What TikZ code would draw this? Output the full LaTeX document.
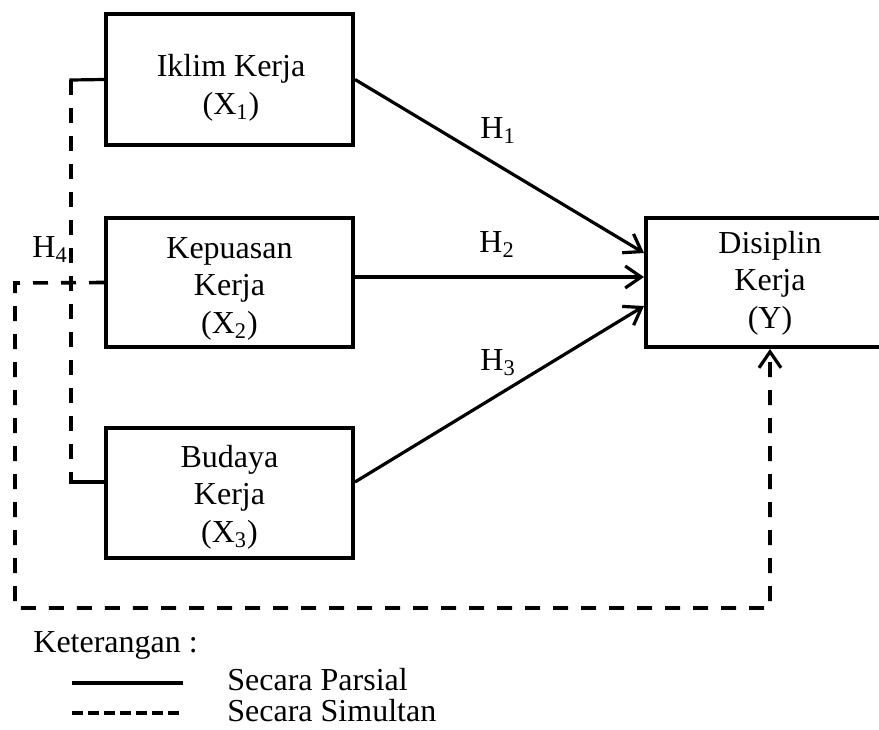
\documentclass[tikz,border=0pt]{standalone}
\usepackage{fontspec}
\setmainfont{Liberation Serif}
\usetikzlibrary{arrows.meta}
\begin{document}
\begin{tikzpicture}[x=0.5pt,y=-0.5pt,
  box/.style={draw, line width=2pt, minimum width=123.5pt, minimum height=65pt, inner sep=0pt},
  txt/.style={align=center, inner sep=0pt, font=\fontsize{16}{18.75}\selectfont},
  lbl/.style={inner sep=0pt, anchor=base west, font=\fontsize{16}{18.75}\selectfont},
  solidline/.style={line width=1.6pt},
  dashline/.style={line width=1.8pt, dash pattern=on 7.5pt off 6.5pt},
  arr/.style={-{Straight Barb[length=8pt,width=11pt,line width=1.6pt]}},
]
\useasboundingbox (0,0) rectangle (879,729);
\clip (0,0) rectangle (879,729);
% boxes
\node[box, minimum height=65.5pt] (X1) at (229.5,79.5) {};
\node[box, minimum height=64.5pt] (X2) at (229.5,282.5) {};
\node[box, minimum height=65pt] (X3) at (229.5,493) {};
\node[box, minimum width=124pt, minimum height=64.5pt] (Y) at (770,282.5) {};
% box texts
\node[txt] (t1) at (231,88) {Iklim Kerja\\(X\textsubscript{1})};
\node[txt] (t2) at (229.5,288.5) {Kepuasan\\Kerja\\(X\textsubscript{2})};
\node[txt] (t3) at (229.5,497) {Budaya\\Kerja\\(X\textsubscript{3})};
\node[txt] (tY) at (770,283) {Disiplin\\Kerja\\(Y)};
% H4 bracket
\coordinate (h4top) at (71,80);
\coordinate (h4bot) at (71,482);
\draw[solidline, line cap=rect] (X1.west) -- (h4top);
\draw[dashline] (h4top) -- (h4bot);
\draw[solidline, line cap=rect] (h4bot) -- (h4bot -| X3.west);
% partial arrows
\draw[solidline,arr] (X1.east) -- (Y.west |- 0,253);
\draw[solidline,arr] (X2.east |- 0,277) -- (Y.west |- 0,277);
\draw[solidline,arr] (X3.east |- h4bot) -- (Y.west |- 0,306);
% simultaneous arrow
\coordinate (sl) at (15,283);
\coordinate (sb1) at (15,608);
\coordinate (sb2) at (770,608);
\draw[dashline,arr] (X2.west) -- (sl) -- (sb1) -- (sb2) -- (Y.south);
% hypothesis labels
\node[lbl] (H1) at (480,138) {H\textsubscript{1}};
\node[lbl] (H2) at (479,252) {H\textsubscript{2}};
\node[lbl] (H3) at (480,370) {H\textsubscript{3}};
\node[lbl] (H4) at (32,257) {H\textsubscript{4}};
% legend
\node[lbl] (ket) at (33,652) {Keterangan :};
\draw[line width=2pt] (72,683) -- (183,683);
\draw[line width=2pt, dash pattern=on 5.5pt off 2.5pt] (72,713) -- (183,713);
\node[lbl] (parsial) at (227,690) {Secara Parsial};
\node[lbl] (simultan) at (227,721) {Secara Simultan};
\end{tikzpicture}
\end{document}
